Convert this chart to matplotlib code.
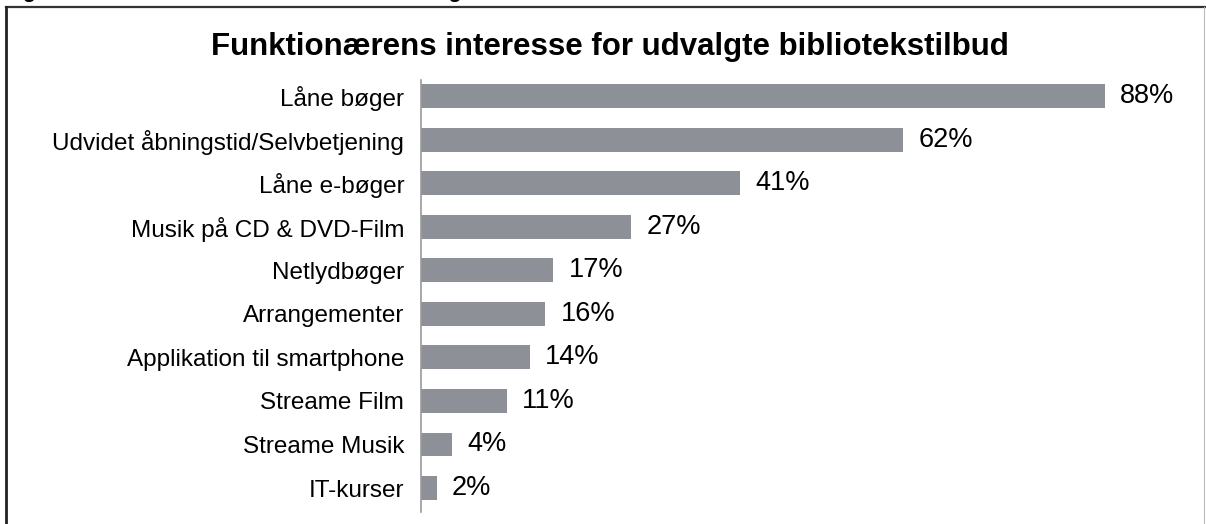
import matplotlib.pyplot as plt
from matplotlib.lines import Line2D

plt.rcParams['font.family'] = ['Liberation Sans', 'DejaVu Sans']

categories = ['Låne bøger', 'Udvidet åbningstid/Selvbetjening', 'Låne e-bøger',
              'Musik på CD & DVD-Film', 'Netlydbøger', 'Arrangementer',
              'Applikation til smartphone', 'Streame Film', 'Streame Musik',
              'IT-kurser']
values = [88, 62, 41, 27, 17, 16, 14, 11, 4, 2]

W, H = 1206, 524
fig = plt.figure(figsize=(W / 100, H / 100), dpi=100)

# frame lines of the scanned page
fig.add_artist(Line2D([6 / W, 1], [1 - 7 / H, 1 - 7 / H], color='#333333', lw=1.6))
fig.add_artist(Line2D([6 / W, 6 / W], [0, 1 - 7 / H], color='#222222', lw=2.0))
fig.add_artist(Line2D([1204 / W, 1204 / W], [0, 1 - 7 / H], color='#bbbbbb', lw=0.8))

# clipped caption above the frame
fig.text(6 / W, 1 + 7 / H, 'Figur 6: Funktionærernes interesse for udvalgte bibliotekstilbud',
         fontsize=15, fontweight='bold', style='italic', ha='left', va='center')

fig.text(610 / W, 1 - 47 / H, 'Funktionærens interesse for udvalgte bibliotekstilbud',
         fontsize=22.5, fontweight='bold', ha='center', va='center')

ax = fig.add_axes([421 / W, 12 / H, (1205 - 421) / W, (512 - 80) / H])
ax.set_ylim(len(categories) - 1 + 0.55, -0.37)
ax.set_xlim(0, 88 * (1205 - 421) / (1105 - 421))

y = range(len(categories))
ax.barh(y, values, height=0.55, color='#8e9097')
for yi, v in zip(y, values):
    ax.annotate(f'{v}%', (v, yi), xytext=(11, 0), textcoords='offset points',
                ha='left', va='center', fontsize=19.5)

ax.set_yticks(list(y))
ax.set_yticklabels(categories, fontsize=17.5)
ax.tick_params(axis='y', length=0, pad=12)
ax.set_xticks([])
for s in ['top', 'right', 'bottom']:
    ax.spines[s].set_visible(False)
ax.spines['left'].set_color('#9a9a9a')
ax.spines['left'].set_linewidth(1.2)

fig.savefig('out.png', dpi=100)
